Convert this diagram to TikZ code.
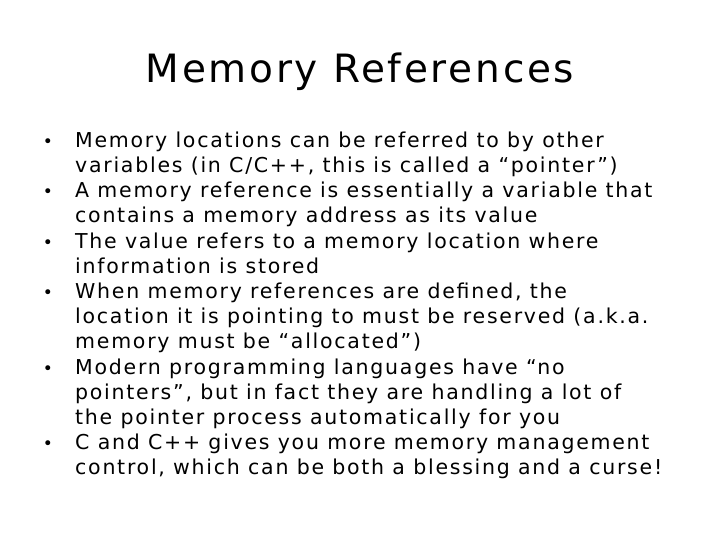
\documentclass[tikz,border=0pt]{standalone}
\usepackage{fontspec}
\setmainfont{DejaVu Sans}
\newfontfamily\bodyf[LetterSpace=8.5]{DejaVu Sans}
\newfontfamily\titlef[LetterSpace=7]{DejaVu Sans}
\begin{document}
\begin{tikzpicture}[x=1pt,y=-1pt,
  ln/.style={anchor=base west,inner sep=0pt,font=\bodyf\fontsize{20.5}{22}\selectfont},
  bl/.style={anchor=base,inner sep=0pt,font=\fontsize{17}{20}\selectfont}]
\useasboundingbox (0,0) rectangle (720,540);
\node[anchor=base,inner sep=0pt,font=\titlef\fontsize{39}{44}\selectfont] (title) at (360,83) {Memory References};
\def\L#1#2{\node[ln] (l#1) at (75,{122+#1*25.2}) {#2};}
\def\B#1{\node[bl] (b#1) at (48,{122+#1*25.2}) {•};}
\L{1}{Memory locations can be referred to by other}\B{1}
\L{2}{variables (in C/C++, this is called a “pointer”)}
\L{3}{A memory reference is essentially a variable that}\B{3}
\L{4}{contains a memory address as its value}
\L{5}{The value refers to a memory location where}\B{5}
\L{6}{information is stored}
\L{7}{When memory references are defined, the}\B{7}
\L{8}{location it is pointing to must be reserved (a.k.a.}
\L{9}{memory must be “allocated”)}
\L{10}{Modern programming languages have “no}\B{10}
\L{11}{pointers”, but in fact they are handling a lot of}
\L{12}{the pointer process automatically for you}
\L{13}{C and C++ gives you more memory management}\B{13}
\L{14}{control, which can be both a blessing and a curse!}
\end{tikzpicture}
\end{document}
